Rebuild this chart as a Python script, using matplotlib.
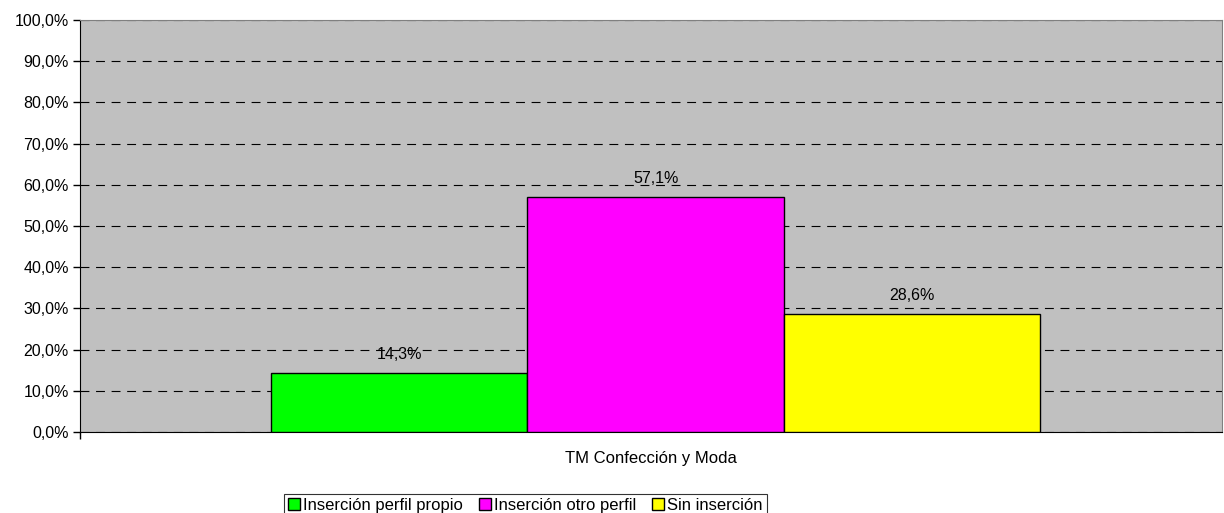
import numpy as np
import matplotlib.pyplot as plt
from matplotlib.ticker import FuncFormatter

plt.rcParams['font.family'] = ['Liberation Sans', 'DejaVu Sans']

category = 'TM Confección y Moda'
series = ['Inserción perfil propio', 'Inserción otro perfil', 'Sin inserción']
values = [14.3, 57.1, 28.6]
colors = ['#00ff00', '#ff00ff', '#ffff00']

fig = plt.figure(figsize=(12.24, 5.13), dpi=100)
ax = fig.add_axes([80/1224, 1 - 432/513, 1142/1224, 412/513])
ax.set_facecolor('#c0c0c0')

w = 0.2245
offsets = [-w, 0, w]
for i in range(3):
    x = 0.004 + offsets[i]
    ax.bar(x, values[i], width=w, color=colors[i], edgecolor='black', linewidth=1, label=series[i], zorder=3)
    ax.text(x, values[i] + 2.6, ('%.1f%%' % values[i]).replace('.', ','), ha='center', va='bottom', fontsize=11.5, zorder=4)

ax.set_xlim(-0.5, 0.5)
ax.set_ylim(0, 100)
ax.set_yticks(np.arange(0, 101, 10))
ax.yaxis.set_major_formatter(FuncFormatter(lambda v, p: ('%.1f%%' % v).replace('.', ',')))
ax.yaxis.grid(True, color='black', linestyle=(0, (8, 6)), linewidth=0.8, zorder=1)
ax.set_xticks([-0.5])
ax.set_xticklabels([''])
ax.tick_params(axis='y', labelsize=11.5, length=5, width=1, pad=3)
ax.tick_params(axis='x', length=5, width=1)
ax.text(0, -4.6, category, ha='center', va='top', fontsize=12, transform=ax.transData, clip_on=False)

for s in ['top', 'right']:
    ax.spines[s].set_color('#808080')
for s in ['left', 'bottom']:
    ax.spines[s].set_color('black')

leg = ax.legend(loc='upper left', bbox_to_anchor=(204/1142, -62/412), ncol=3, fontsize=12,
                frameon=True, fancybox=False, edgecolor='black', handlelength=0.7, handleheight=0.7,
                handletextpad=0.2, columnspacing=0.95, borderpad=0.25, borderaxespad=0)
leg.get_frame().set_linewidth(0.8)

fig.savefig('out.png', dpi=100)
